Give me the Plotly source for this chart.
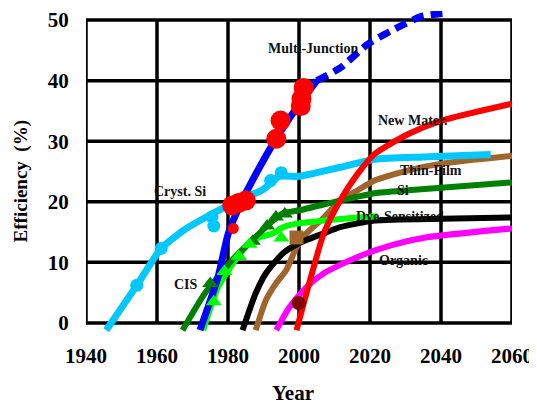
import plotly.graph_objects as go

# ---------------- data ----------------
cryst_x = [1945.7, 1954.3, 1961.2, 1968.0, 1975.5, 1982.0, 1989.8, 1994.4, 2000.1, 2011.6, 2021.3, 2035.0, 2054.0]
cryst_y = [-1.2, 6.2, 12.3, 15.5, 18.0, 20.0, 22.0, 24.2, 24.2, 25.7, 27.0, 27.4, 27.8]
cryst_mx = [1954.3, 1961.2, 1975.5, 1976.0, 1992.0, 1995.0]
cryst_my = [6.2, 12.3, 17.5, 16.0, 23.5, 24.8]

mj_x = [1972.1, 1977.2, 1980.1, 1984.4, 1988.7, 1992.7, 1995.5, 1999.3, 2005.0]
mj_y = [-1.2, 7.6, 14.8, 20.7, 25.5, 29.6, 32.2, 35.5, 40.0]
mj_proj_x = [2005.0, 2011.6, 2019.3, 2025.9, 2034.5, 2042.3]
mj_proj_y = [40.0, 42.1, 46.0, 48.2, 50.6, 51.2]
mj_mx = [1981.2, 1988.5, 1989.5, 1990.5]
mj_my = [15.5, 24.0, 27.0, 27.5]

gaas_x = [1981.2, 1983.0, 1985.0, 1981.5, 1993.6, 1994.8, 2000.5, 2001.3, 2000.7]
gaas_y = [19.4, 19.8, 20.2, 15.6, 30.4, 33.4, 35.8, 38.8, 37.0]
gaas_size = [20, 20, 20, 11, 20, 20, 20, 20, 20]

tfsi_x = [1967.2, 1973.5, 1981.2, 1986.9, 1992.7, 1995.5, 2000.1, 2011.6, 2021.3, 2030.8, 2060.0]
tfsi_y = [-1.2, 4.9, 10.4, 13.7, 16.9, 18.1, 18.6, 20.2, 21.4, 21.9, 23.2]
tfsi_mx = [1975.0, 1983.0, 1987.0, 1991.0, 1993.5, 1996.0]
tfsi_my = [6.5, 11.0, 13.5, 16.0, 17.5, 18.0]

dye_x = [1973.0, 1977.2, 1982.1, 1986.9, 1992.7, 1995.5, 1999.3, 2007.0, 2016.5, 2022.0]
dye_y = [-1.2, 5.9, 10.4, 13.7, 14.8, 15.8, 16.4, 16.9, 17.4, 17.6]
dye_mx = [1976.0, 1979.0, 1983.0, 1986.0, 1995.0]
dye_my = [3.5, 8.5, 11.0, 13.0, 14.0]

cdte_x = [1984.1, 1987.8, 1990.7, 1995.5, 2000.1, 2007.0, 2011.6, 2021.3, 2040.2, 2060.0]
cdte_y = [-1.2, 4.9, 8.2, 11.5, 13.2, 14.8, 15.8, 16.9, 17.2, 17.4]
cdte_mx = [1990.7, 1992.7, 1997.0]
cdte_my = [7.1, 9.9, 10.9]

cis_x = [1987.8, 1990.7, 1993.6, 1996.4, 1999.3, 2002.1, 2007.0, 2011.6, 2016.5, 2021.3, 2030.8, 2040.2, 2060.0]
cis_y = [-1.2, 3.8, 6.6, 8.7, 12.5, 14.8, 17.4, 20.2, 21.9, 23.5, 25.2, 26.3, 27.6]
cis_mx = [1999.3]
cis_my = [14.1]

org_x = [1993.6, 1997.3, 2002.1, 2007.0, 2016.5, 2025.9, 2035.6, 2060.0]
org_y = [-1.2, 2.6, 5.9, 8.2, 10.9, 12.8, 14.1, 15.6]

new_x = [1999.3, 2002.1, 2007.0, 2011.6, 2016.5, 2021.3, 2030.8, 2040.2, 2060.0]
new_y = [-1.2, 4.9, 14.8, 20.2, 24.6, 27.9, 31.2, 33.4, 36.2]
new_mx = [1999.9]
new_my = [3.3]

x_ticks = [1940, 1960, 1980, 2000, 2020, 2040, 2060]
y_ticks = [0, 10, 20, 30, 40, 50]

labels = ["Multi-Junction", "New Mater.", "Thin-Film", "Si", "Cryst. Si", "CIS", "Dye-Sensitized", "Organic"]
label_x = [2004.0, 2032.0, 2037.2, 2029.2, 1966.6, 1968.3, 2028.4, 2029.4]
label_y = [45.3, 33.5, 25.2, 21.9, 21.7, 6.3, 17.5, 10.3]

FONT = "Liberation Serif"

fig = go.Figure()

def line(x, y, color, width=6, dash="solid"):
    fig.add_trace(go.Scatter(x=x, y=y, mode="lines", line=dict(color=color, width=width, dash=dash, shape="spline", smoothing=0.6),
                             showlegend=False, hoverinfo="skip"))

def marks(x, y, color, symbol, size=12, linecolor=None, lw=0):
    fig.add_trace(go.Scatter(x=x, y=y, mode="markers",
                             marker=dict(color=color, symbol=symbol, size=size, opacity=1,
                                         line=dict(color=linecolor or color, width=lw)),
                             showlegend=False, hoverinfo="skip", cliponaxis=False))

# lines
line(org_x, org_y, "#FF00FF", 6)
line(cis_x, cis_y, "#A0652D", 6)
line(cdte_x, cdte_y, "#000000", 6)
line(dye_x, dye_y, "#00FF00", 6)
line(tfsi_x, tfsi_y, "#008000", 6)
line(cryst_x, cryst_y, "#00C8FF", 7)
line(mj_x, mj_y, "#0000FF", 7)
line(mj_proj_x, mj_proj_y, "#0000FF", 7, dash="12px,7px")
line(new_x, new_y, "#FF0000", 6)

# markers
marks(cryst_mx, cryst_my, "#00C8FF", "circle", 13)
marks(tfsi_mx, tfsi_my, "#008000", "triangle-up", 14)
marks(dye_mx, dye_my, "#00FF00", "triangle-up", 14)
marks(mj_mx, mj_my, "rgba(0,0,0,0)", "circle-open", 12, "#0000FF", 3)
marks(cis_mx, cis_my, "#A0652D", "square", 14)
marks(cdte_mx, cdte_my, "rgba(0,0,0,0)", "diamond-open", 13, "#004000", 3)
fig.add_trace(go.Scatter(x=gaas_x, y=gaas_y, mode="markers",
                         marker=dict(color="#FF0000", symbol="circle", size=gaas_size, opacity=1, line=dict(width=0)),
                         showlegend=False, hoverinfo="skip"))
marks(new_mx, new_my, "#800000", "circle", 14)

# frame and grid (from the tick arrays)
shapes = []
for xv in x_ticks:
    shapes.append(dict(type="line", xref="x", yref="y", x0=xv, x1=xv, y0=y_ticks[0], y1=y_ticks[-1],
                       line=dict(color="black", width=3.5), layer="below"))
for yv in y_ticks:
    shapes.append(dict(type="line", xref="x", yref="y", x0=x_ticks[0], x1=x_ticks[-1], y0=yv, y1=yv,
                       line=dict(color="black", width=3.5), layer="below"))

annotations = []
for t, ax_, ay_ in zip(labels, label_x, label_y):
    annotations.append(dict(x=ax_, y=ay_, xref="x", yref="y", text=t, showarrow=False,
                            font=dict(family=FONT, size=14, color="#111111", weight="bold")))

# page has an 8px body margin; figure is sized so that the plot sits where the reference has it
annotations.append(dict(x=0.486, y=-0.19, xref="paper", yref="paper", yanchor="middle", text="Year",
                        showarrow=False, font=dict(family=FONT, size=21, color="black", weight="bold")))
annotations.append(dict(x=-0.152, y=0.47, xref="paper", yref="paper", xanchor="center", yanchor="middle",
                        text="Efficiency  (%)",
                        textangle=-90, showarrow=False, font=dict(family=FONT, size=19, color="black", weight="bold")))

fig.update_layout(
    width=529, height=397,
    margin=dict(l=78, r=25, t=3, b=73),
    paper_bgcolor="white", plot_bgcolor="white",
    shapes=shapes, annotations=annotations,
    xaxis=dict(range=[1940, 2060], tickvals=x_ticks, ticktext=[str(v) for v in x_ticks],
               showgrid=False, zeroline=False, showline=False, automargin=False,
               ticks="outside", ticklen=5, tickcolor="rgba(0,0,0,0)",
               tickfont=dict(family=FONT, size=21, color="black", weight="bold")),
    yaxis=dict(range=[-1.5, 51.5], tickvals=y_ticks, ticktext=[str(v) for v in y_ticks],
               showgrid=False, zeroline=False, showline=False, automargin=False,
               ticks="outside", ticklen=12, tickcolor="rgba(0,0,0,0)",
               tickfont=dict(family=FONT, size=21, color="black", weight="bold")),
)

fig.write_html("out.html")
